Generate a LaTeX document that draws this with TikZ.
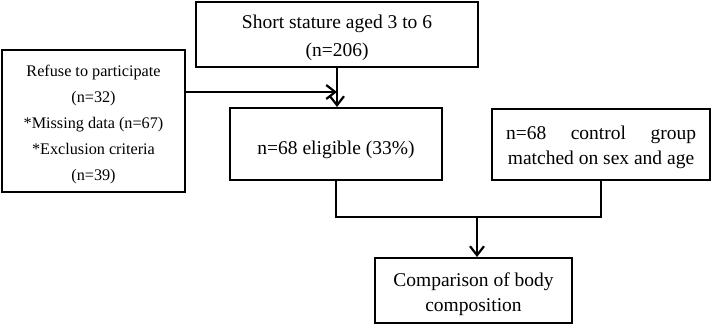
\documentclass[tikz,border=0pt]{standalone}
\usepackage{fontspec}
\setmainfont{Liberation Serif}
\usetikzlibrary{arrows.meta}
\begin{document}
\begin{tikzpicture}[x=1pt,y=-1pt,
  box/.style={draw,line width=2pt,inner sep=0pt,anchor=center},
  txt/.style={inner sep=0pt,align=center,anchor=center},
  big/.style={font=\fontsize{19.5}{28}\selectfont},
  bigtight/.style={font=\fontsize{19.5}{25}\selectfont},
  small/.style={font=\fontsize{16.2}{26}\selectfont},
  conn/.style={line width=2pt},
  arr/.style={conn,-{Straight Barb[length=9pt,width=14pt,line width=2.2pt]}}]
\useasboundingbox (0,0) rectangle (712,325);
\node[box,minimum width=282pt,minimum height=65pt] (top) at (337,34.5) {};
\node[txt,big] (toptxt) at ([yshift=-3pt]top.center) {Short stature aged 3 to 6\\(n=206)};
\node[box,minimum width=183pt,minimum height=142pt] (excl) at (93.5,121) {};
\node[txt,small] (excltxt) at ([yshift=-3.5pt]excl.center)
  {Refuse to participate\\(n=32)\\*Missing data (n=67)\\*Exclusion criteria\\(n=39)};
\node[box,minimum width=212pt,minimum height=72pt] (elig) at (336,144) {};
\node[txt,big] (eligtxt) at ([yshift=-6pt]elig.center) {n=68 eligible (33\%)};
\node[box,minimum width=218pt,minimum height=71pt] (ctrl) at (601,144.5) {};
\node[txt,bigtight] (ctrltxt) at ([yshift=-2.5pt]ctrl.center)
  {\makebox[190pt][s]{n=68\hfill control\hfill group}\\matched on sex and age};
\node[box,minimum width=197pt,minimum height=65pt] (comp) at (473.5,290.5) {};
\node[txt,bigtight] (comptxt) at ([yshift=-4pt]comp.center) {Comparison of body\\composition};
\coordinate (m) at (337,92);
\coordinate (j) at (477,216);
\draw[arr] (top.south -| m) -- (elig.north -| m);
\draw[arr] (excl.east |- m) -- (m);
\draw[conn] (elig.south) -- ++(0,36) -| (ctrl.south);
\draw[arr] (j) -- (j |- comp.north);
\end{tikzpicture}
\end{document}
